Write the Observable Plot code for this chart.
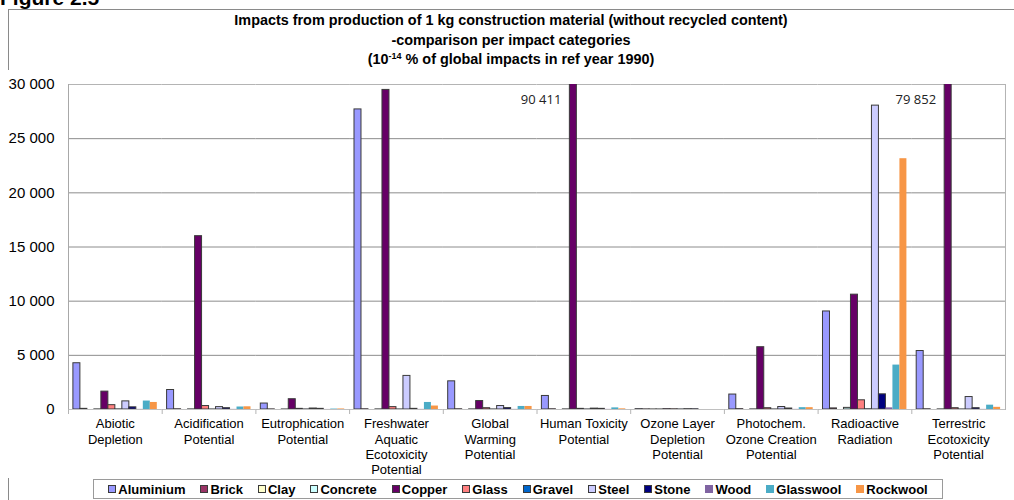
<!DOCTYPE html>
<html>
<head>
<meta charset="utf-8">
<script src="https://cdn.jsdelivr.net/npm/d3@7"></script>
<script src="https://cdn.jsdelivr.net/npm/@observablehq/plot@0.6"></script>
<style>
  body { margin: 0; background: #fff; font-family: Arial, "Liberation Sans", sans-serif; }
  #wrap { position: relative; width: 1014px; height: 500px; overflow: hidden; background: #fff; }
  #fig { position: absolute; left: 0; top: -13px; font-weight: bold; font-size: 21px; line-height: 21px; color: #000; }
  #border { position: absolute; left: 8px; top: 9px; width: 1100px; height: 600px; border: 1px solid #8a8a8a; }
  #title { position: absolute; left: 8px; width: 1006px; top: 11px; text-align: center; font-weight: bold; font-size: 14.4px; line-height: 19.5px; color: #000; }
  #title sup { font-size: 9px; vertical-align: 5px; line-height: 0; }
  #chart { position: absolute; left: 0; top: 70px; }
  #legend { position: absolute; left: 93px; top: 479px; width: 850px; height: 20px; border: 1px solid #9a9a9a; box-sizing: border-box;
            display: flex; align-items: center; justify-content: center; gap: 15px; font-weight: bold; font-size: 13px; color: #000; }
  .li { display: flex; align-items: center; white-space: nowrap; }
  .sw { width: 8px; height: 8px; margin-right: 2px; box-sizing: border-box; }
</style>
</head>
<body>
<div id="wrap">
  <div id="border"></div>
  <div id="fig">Figure 2.5</div>
  <div id="title">Impacts from production of 1 kg construction material (without recycled content)<br>-comparison per impact categories<br>(10<sup>-14</sup> % of global impacts in ref year 1990)</div>
  <div id="chart"></div>
  <div id="legend"></div>
</div>
<script>
// ---- data ----
const categories = [
  "Abiotic\nDepletion",
  "Acidification\nPotential",
  "Eutrophication\nPotential",
  "Freshwater\nAquatic\nEcotoxicity\nPotential",
  "Global\nWarming\nPotential",
  "Human Toxicity\nPotential",
  "Ozone Layer\nDepletion\nPotential",
  "Photochem.\nOzone Creation\nPotential",
  "Radioactive\nRadiation",
  "Terrestric\nEcotoxicity\nPotential"
];
const series = ["Aluminium", "Brick", "Clay", "Concrete", "Copper", "Glass", "Gravel", "Steel", "Stone", "Wood", "Glasswool", "Rockwool"];
const seriesColors = ["#9999FF", "#993366", "#FFFFCC", "#CCFFFF", "#660066", "#FF8080", "#0066CC", "#CCCCFF", "#000080", "#8064A2", "#4BACC6", "#F79646"];
const seriesOutlined = [true, true, true, true, true, true, true, true, true, false, false, false];

const aluminium = [4270, 1800, 550, 27700, 2600, 1250, 30, 1380, 9050, 5400];
const brick     = [60, 20, 10, 20, 20, 20, 10, 30, 100, 20];
const clay      = [0, 0, 0, 0, 0, 0, 5, 0, 0, 0];
const concrete  = [10, 10, 5, 10, 10, 10, 5, 10, 150, 10];
const copper    = [1650, 16000, 950, 29500, 780, 90411, 30, 5750, 10600, 79852];
const glass     = [400, 320, 60, 220, 120, 60, 20, 120, 850, 120];
const gravel    = [10, 5, 5, 5, 5, 5, 5, 5, 20, 5];
const steel     = [750, 220, 90, 3100, 320, 80, 30, 230, 28050, 1150];
const stone     = [200, 120, 60, 60, 130, 60, 20, 90, 1400, 120];
const wood      = [10, 10, 5, 10, 10, 10, 0, 10, 150, 10];
const glasswool = [780, 230, 40, 650, 280, 150, 0, 170, 4100, 400];
const rockwool  = [650, 250, 50, 320, 280, 60, 0, 170, 23150, 200];
const seriesValues = [aluminium, brick, clay, concrete, copper, glass, gravel, steel, stone, wood, glasswool, rockwool];

const yTicks = [0, 5000, 10000, 15000, 20000, 25000, 30000];
const yMax = 30000;

// ---- table ----
const rows = [];
series.forEach((s, i) => {
  categories.forEach((c, j) => {
    rows.push({category: c, series: s, value: seriesValues[i][j], fill: seriesColors[i], outlined: seriesOutlined[i]});
  });
});

const fmt = d3.formatLocale({decimal: ".", thousands: " ", grouping: [3], currency: ["", ""]}).format(",");

const W = 1014, H = 408, ML = 68, MR = 9, MT = 14, MB = 69;
const facetW = (W - ML - MR) / categories.length;

const chart = Plot.plot({
  width: W,
  height: H,
  marginLeft: ML,
  marginRight: MR,
  marginTop: MT,
  marginBottom: MB,
  style: {fontFamily: "Arial, 'Liberation Sans', sans-serif", color: "#000", background: "#fff"},
  fx: {domain: categories, padding: 0, round: false, label: null},
  x: {domain: series, paddingInner: 0, paddingOuter: 0.7, round: false, axis: null},
  y: {domain: [0, yMax], axis: null},
  color: {type: "identity"},
  marks: [
    Plot.gridY(yTicks.filter(t => t > 0 && t < yMax), {stroke: "#8c8c8c", strokeOpacity: 1}),
    Plot.ruleY([yMax], {stroke: "#b4b4b4"}),
    Plot.ruleY([0], {stroke: "#c0c0c0"}),
    Plot.frame({anchor: "left", facetAnchor: "left", stroke: "#a8a8a8"}),
    Plot.frame({anchor: "right", facetAnchor: "right", stroke: "#b4b4b4"}),
    Plot.barY(rows.filter(d => d.outlined), {fx: "category", x: "series", y: "value", fill: "fill", stroke: "#3a3a3a", strokeWidth: 1, clip: true}),
    Plot.barY(rows.filter(d => !d.outlined), {fx: "category", x: "series", y: "value", fill: "fill", clip: true}),
    Plot.text(rows.filter(d => d.value > yMax), {fx: "category", x: "series", y: () => yMax, text: d => fmt(d.value),
      textAnchor: "end", dx: -12, dy: 15, fontSize: 13, fontFamily: "'Open Sans', sans-serif", fill: "#222"}),
    Plot.axisY(yTicks, {tickSize: 0, tickPadding: 14, tickFormat: fmt, fontSize: 15, label: null}),
    Plot.axisFx({anchor: "bottom", tickSize: 0, tickPadding: 8, fontSize: 13, lineHeight: 1.18, label: null}),
    Plot.axisFx({anchor: "bottom", tickSize: 5, tickFormat: () => "", dx: -facetW / 2, stroke: "#b4b4b4", label: null})
  ]
});
document.getElementById("chart").appendChild(chart);

// ---- legend ----
const legend = document.getElementById("legend");
series.forEach((s, i) => {
  const item = document.createElement("div");
  item.className = "li";
  const sw = document.createElement("span");
  sw.className = "sw";
  sw.style.background = seriesColors[i];
  sw.style.border = seriesOutlined[i] ? "1px solid #3a3a3a" : "none";
  item.appendChild(sw);
  item.appendChild(document.createTextNode(s));
  legend.appendChild(item);
});
</script>
</body>
</html>
